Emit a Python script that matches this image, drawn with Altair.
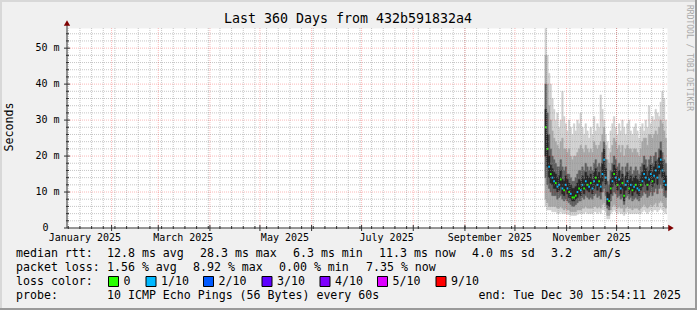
import altair as alt
import pandas as pd

# ---------------- data ----------------
days = pd.date_range("2025-10-19", periods=73, freq="D")

median_ms = [28, 22, 17, 15, 14, 13, 12.5, 11.5, 12, 13.5,
             11, 10.5, 12, 11, 10, 9.5, 8.5, 8.5, 9, 10,
             11, 10.5, 12, 11, 13, 12, 11.5, 12.5, 11, 13,
             14, 12, 13, 11.5, 15, 19, 14, 8, 7.5, 11,
             13, 15, 14, 12, 13.5, 11, 12.5, 9, 12, 13,
             11, 12, 10.5, 11.5, 12, 11, 10.5, 12, 13, 15,
             14, 12, 13.5, 15, 13, 14.5, 16, 14, 17, 19,
             16, 13, 12]
core_lo = [20, 17, 14, 12.5, 12, 11, 11, 10, 10.5, 11.5,
           9.5, 9, 10.5, 9.5, 8.5, 8, 7.5, 7.5, 8, 8.5,
           9.5, 9, 10.5, 9.5, 11, 10.5, 10, 11, 9.5, 11,
           12, 10.5, 11.5, 10, 13, 15, 12, 6.5, 6, 9.5,
           11.5, 13, 12, 10.5, 12, 9.5, 11, 7.5, 10.5, 11.5,
           9.5, 10.5, 9, 10, 10.5, 9.5, 9, 10.5, 11.5, 13,
           12, 10.5, 12, 13, 11.5, 12.5, 14, 12, 15, 16,
           14, 11.5, 10.5]
core_hi = [33, 26, 20, 17.5, 16.5, 15.5, 15, 14, 14.5, 16,
           13.5, 13, 14.5, 13.5, 12.5, 12, 11, 11, 11.5, 12.5,
           13.5, 13, 14.5, 13.5, 15.5, 14.5, 14, 15, 13.5, 15.5,
           16.5, 14.5, 15.5, 14, 18, 22, 16.5, 10, 9.5, 13.5,
           15.5, 17.5, 16.5, 14.5, 16, 13.5, 15, 11.5, 14.5, 15.5,
           13.5, 14.5, 13, 14, 14.5, 13.5, 13, 14.5, 15.5, 17.5,
           16.5, 14.5, 16, 17.5, 15.5, 17, 18.5, 16.5, 19.5, 21.5,
           18.5, 15.5, 14.5]
dark_lo = [14, 12, 11, 10, 9, 9, 9, 8, 8.5, 9,
           8, 7.5, 8, 7.5, 7, 6.5, 6, 6, 6.5, 7,
           7.5, 7.5, 8.5, 8, 9, 8.5, 8, 8.5, 8, 9,
           9.5, 8.5, 9, 8, 10, 11, 9, 5.5, 5, 7.5,
           9, 10, 9.5, 8.5, 9, 8, 8.5, 6.5, 8.5, 9,
           8, 8.5, 7.5, 8, 8.5, 8, 7.5, 8.5, 9, 10,
           9.5, 8.5, 9, 10, 9, 10, 11, 9.5, 11, 12,
           11, 9, 8.5]
dark_hi = [40, 32, 26, 22, 20, 19, 18, 17, 17, 19,
           17, 16, 17, 15, 15, 14, 13, 13, 14, 15,
           16, 16, 17, 16, 18, 17, 16, 17, 16, 18,
           19, 17, 18, 17, 21, 24, 19, 13, 12, 16,
           18, 20, 19, 17, 18, 16, 17, 14, 17, 18,
           16, 17, 15, 16, 17, 16, 15, 17, 18, 20,
           19, 17, 19, 20, 18, 20, 21, 19, 22, 24,
           21, 19, 18]
mid_lo = [8, 7, 6, 6, 6, 6, 6, 5.5, 5.5, 6,
          5.5, 5, 5.5, 5, 5, 4.5, 4.5, 4.5, 4.5, 5,
          5, 5, 5.5, 5.5, 6, 5.5, 5.5, 5.5, 5.5, 6,
          6, 5.5, 6, 5.5, 6.5, 7, 6, 3.5, 3.5, 5,
          6, 6.5, 6, 5.5, 6, 5.5, 5.5, 4.5, 5.5, 6,
          5.5, 5.5, 5, 5.5, 5.5, 5.5, 5, 5.5, 6, 6.5,
          6, 5.5, 6, 6.5, 6, 6.5, 7, 6, 7, 7.5,
          7, 6, 5.5]
mid_hi = [48, 40, 34, 30, 27, 25, 24, 23, 22, 24,
          25, 22, 22, 21, 22, 20, 19, 20, 20, 21,
          22, 23, 22, 21, 23, 22, 21, 22, 21, 24,
          23, 22, 23, 24, 26, 28, 23, 19, 18, 21,
          23, 25, 24, 22, 23, 21, 23, 20, 22, 23,
          22, 22, 21, 22, 22, 21, 20, 22, 24, 25,
          25, 23, 26, 26, 25, 26, 27, 26, 28, 30,
          29, 27, 25]
smoke_min = [6, 5, 5, 5, 4.5, 4.5, 4.5, 4, 4, 4.5,
             4, 4, 4, 3.8, 3.8, 3.5, 3.5, 3.5, 3.5, 3.8,
             4, 4, 4, 4, 4.5, 4, 4, 4, 4, 4.5,
             4.5, 4, 4.5, 4, 5, 5, 4.5, 2.5, 2.5, 4,
             4.5, 5, 4.5, 4, 4.5, 4, 4, 3.5, 4, 4.5,
             4, 4, 4, 4, 4, 4, 4, 4, 4.5, 5,
             4.5, 4, 4.5, 5, 4.5, 5, 5, 4.5, 5, 5.5,
             5, 4.5, 4]
smoke_max = [55.5, 48, 43, 40, 36, 33, 30, 32, 28, 30,
             38, 31, 29, 27, 30, 28, 26, 29, 27, 30,
             29, 32, 28, 26, 29, 27, 25, 28, 26, 31,
             27, 29, 28, 37, 33, 30, 26, 24, 22, 27,
             29, 31, 28, 26, 29, 27, 30, 28, 26, 29,
             30, 27, 26, 28, 29, 27, 25, 28, 29, 27,
             30, 28, 34, 29, 31, 30, 33, 32, 31, 35,
             38, 36, 30]
loss_codes = ("ggbgbbgbbg" "bgbbgbgggb" "gbbgbgbgbb" "gbgbbbbbgg"
              "bgbgbbggbb" "gbgbgbbgbb" "bgbbgbbbbb" "bbb")
loss = ["0" if c == "g" else "1/10" for c in loss_codes]

y_major = [10, 20, 30, 40, 50]
y_minor = [2, 4, 6, 8, 12, 14, 16, 18, 22, 24, 26, 28, 32, 34, 36, 38, 42, 44, 46, 48, 52, 54]
y_labels = ["10 m", "20 m", "30 m", "40 m", "50 m"]
week_lines = pd.date_range("2025-01-06", "2025-12-29", freq="7D")
month_lines = pd.date_range("2025-02-01", "2025-12-01", freq="MS")
month_label_dates = ["2025-01-16", "2025-03-16", "2025-05-16", "2025-07-16", "2025-09-16", "2025-11-16"]
month_labels = ["January 2025", "March 2025", "May 2025", "July 2025", "September 2025", "November 2025"]

loss_names = ["0", "1/10", "2/10", "3/10", "4/10", "5/10", "9/10"]
loss_colors = ["#26ff00", "#00b8ff", "#0059ff", "#5e00ff", "#7e00ff", "#dd00ff", "#ff0000"]

FMT = "%Y-%m-%dT%H:%M:%SZ"
smoke = pd.DataFrame({
    "t0": days.strftime(FMT),
    "t1": (days + pd.Timedelta(days=1)).strftime(FMT),
    "med": median_ms, "c_lo": core_lo, "c_hi": core_hi,
    "d_lo": dark_lo, "d_hi": dark_hi, "m_lo": mid_lo, "m_hi": mid_hi,
    "s_lo": smoke_min, "s_hi": smoke_max, "loss": loss,
})

# ---------------- layout ----------------
W, H = 600, 200
L, T = 67, 28
FONT = "DejaVu Sans Mono"
xs = alt.Scale(type="utc", domain=[
    alt.DateTime(year=2025, month=1, date=5, hours=5, minutes=46, utc=True),
    alt.DateTime(year=2025, month=12, date=31, hours=5, minutes=46, utc=True)])
ys = alt.Scale(domain=[0, 55.6], nice=False, zero=False)

one = alt.Data(values=[{}])


def txt(s, gx, gy, size=11.6, align="left", color="#000000", angle=0):
    kw = dict(text=s, font=FONT, fontSize=size, align=align, baseline="middle", color=color)
    if angle:
        kw["angle"] = angle
    return alt.Chart(one).mark_text(**kw).encode(x=alt.value(gx - L), y=alt.value(gy - T))


def box(gx, gy, color, w=10, h=10):
    return alt.Chart(one).mark_rect(color=color, stroke="#000000", strokeWidth=1).encode(
        x=alt.value(gx - L), x2=alt.value(gx - L + w), y=alt.value(gy - T), y2=alt.value(gy - T + h))


layers = []

# smoke bands
base = alt.Chart(smoke)
for lo, hi, col in [("s_lo", "s_hi", "#d0d0d0"), ("m_lo", "m_hi", "#a8a8a8"),
                    ("d_lo", "d_hi", "#606060"), ("c_lo", "c_hi", "#262626")]:
    layers.append(base.mark_rect(color=col, stroke=col, strokeWidth=0.4).encode(
        x=alt.X("t0:T", scale=xs, axis=None), x2="t1:T",
        y=alt.Y(f"{lo}:Q", scale=ys, axis=None), y2=f"{hi}:Q"))
layers.append(base.mark_rule(strokeWidth=2).encode(
    x=alt.X("t0:T", scale=xs, axis=None), x2="t1:T",
    y=alt.Y("med:Q", scale=ys, axis=None),
    color=alt.Color("loss:N", scale=alt.Scale(domain=loss_names, range=loss_colors), legend=None)))

# grid (drawn over data, as rrdtool does)
layers.append(alt.Chart(pd.DataFrame({"v": y_minor})).mark_rule(
    color="#8f8f8f", opacity=0.5, strokeDash=[1, 1]).encode(y=alt.Y("v:Q", scale=ys, axis=None)))
layers.append(alt.Chart(pd.DataFrame({"t": week_lines.strftime(FMT)})).mark_rule(
    color="#8f8f8f", opacity=0.5, strokeDash=[1, 1]).encode(x=alt.X("t:T", scale=xs, axis=None)))
layers.append(alt.Chart(pd.DataFrame({"v": y_major})).mark_rule(
    color="#f00000", opacity=0.28, strokeDash=[1, 1]).encode(y=alt.Y("v:Q", scale=ys, axis=None)))
layers.append(alt.Chart(pd.DataFrame({"t": month_lines.strftime(FMT)})).mark_rule(
    color="#f00000", opacity=0.28, strokeDash=[1, 1]).encode(x=alt.X("t:T", scale=xs, axis=None)))

# axes
AX = "#303030"
layers.append(alt.Chart(one).mark_rule(color=AX).encode(
    x=alt.value(0), y=alt.value(H), y2=alt.value(-3)))
layers.append(alt.Chart(one).mark_rule(color=AX).encode(
    x=alt.value(-3), x2=alt.value(W + 2), y=alt.value(H)))
layers.append(alt.Chart(pd.DataFrame({"v": y_major})).mark_rule(color=AX).encode(
    y=alt.Y("v:Q", scale=ys, axis=None), x=alt.value(-3), x2=alt.value(3)))
layers.append(alt.Chart(pd.DataFrame({"v": y_minor})).mark_rule(color=AX).encode(
    y=alt.Y("v:Q", scale=ys, axis=None), x=alt.value(-1), x2=alt.value(2)))
layers.append(alt.Chart(pd.DataFrame({"t": month_lines.strftime(FMT)})).mark_rule(color=AX).encode(
    x=alt.X("t:T", scale=xs, axis=None), y=alt.value(H - 3), y2=alt.value(H + 3)))
layers.append(alt.Chart(pd.DataFrame({"t": week_lines.strftime(FMT)})).mark_rule(color=AX).encode(
    x=alt.X("t:T", scale=xs, axis=None), y=alt.value(H - 2), y2=alt.value(H + 1)))
layers.append(alt.Chart(one).mark_point(shape="triangle-up", filled=True, color="#7f0000", size=40, opacity=1).encode(
    x=alt.value(0), y=alt.value(-5)))
layers.append(alt.Chart(one).mark_point(shape="triangle-right", filled=True, color="#7f0000", size=40, opacity=1).encode(
    x=alt.value(W + 4), y=alt.value(H)))

# tick labels
layers.append(alt.Chart(pd.DataFrame({"v": y_major, "s": y_labels})).mark_text(
    font=FONT, fontSize=10, align="right", baseline="middle", color="#000000").encode(
    y=alt.Y("v:Q", scale=ys, axis=None), x=alt.value(-7.5), text="s:N"))
layers.append(txt("0", 48.5, 228.3, size=10, align="right"))
layers.append(alt.Chart(pd.DataFrame({"t": month_label_dates, "s": month_labels})).mark_text(
    font=FONT, fontSize=10, align="center", baseline="middle", color="#000000").encode(
    x=alt.X("t:T", scale=xs, axis=None), y=alt.value(H + 10), text="s:N"))

# titles
layers.append(txt("Last 360 Days from 432b591832a4", 348, 19, size=13.3, align="center"))
layers.append(txt("Seconds", 10, 127, size=11.6, align="center", angle=270))
layers.append(txt("RRDTOOL / TOBI OETIKER", 689, 58, size=8, align="center", color="#a8a8a8", angle=90))

# legend rows
row1 = [("median rtt:", 16), ("12.8 ms avg", 107), ("28.3 ms max", 200), ("6.3 ms min", 293),
        ("11.3 ms now", 379), ("4.0 ms sd", 472), ("3.2", 551), ("am/s", 593)]
row2 = [("packet loss:", 16), ("1.56 % avg", 107), ("8.92 % max", 193), ("0.00 % min", 279),
        ("7.35 % now", 366)]
row4 = [("probe:", 16), ("10 ICMP Echo Pings (56 Bytes) every 60s", 107),
        ("end: Tue Dec 30 15:54:11 2025", 478.5)]
for s, gx in row1:
    layers.append(txt(s, gx, 254))
for s, gx in row2:
    layers.append(txt(s, gx, 268))
for s, gx in row4:
    layers.append(txt(s, gx, 296))
layers.append(txt("loss color:", 16, 282))
box_x = [108.5, 146, 203.5, 262, 320, 377.5, 436]
for name, col, bx in zip(loss_names, loss_colors, box_x):
    layers.append(box(bx, 276.5, col))
    layers.append(txt(name, bx + 15, 282))

# frame
layers.append(alt.Chart(one).mark_rect(color="#9a9a9a").encode(
    x=alt.value(-L), x2=alt.value(697 - L), y=alt.value(308 - T), y2=alt.value(310 - T)))
layers.append(alt.Chart(one).mark_rect(color="#9a9a9a").encode(
    x=alt.value(695 - L), x2=alt.value(697 - L), y=alt.value(-T), y2=alt.value(310 - T)))
layers.append(alt.Chart(one).mark_rect(color="#d8d8d8").encode(
    x=alt.value(-L), x2=alt.value(695 - L), y=alt.value(-T), y2=alt.value(2 - T)))
layers.append(alt.Chart(one).mark_rect(color="#d8d8d8").encode(
    x=alt.value(-L), x2=alt.value(2 - L), y=alt.value(-T), y2=alt.value(308 - T)))

chart = alt.layer(*layers).properties(
    width=W, height=H, background="#f0f0f0",
    padding={"left": L, "top": T, "right": 697 - L - W, "bottom": 310 - T - H},
    autosize=alt.AutoSizeParams(type="none"),
).configure_view(fill="#ffffff", stroke="transparent")

chart.save("out.html", embed_options={"renderer": "svg", "actions": False})
